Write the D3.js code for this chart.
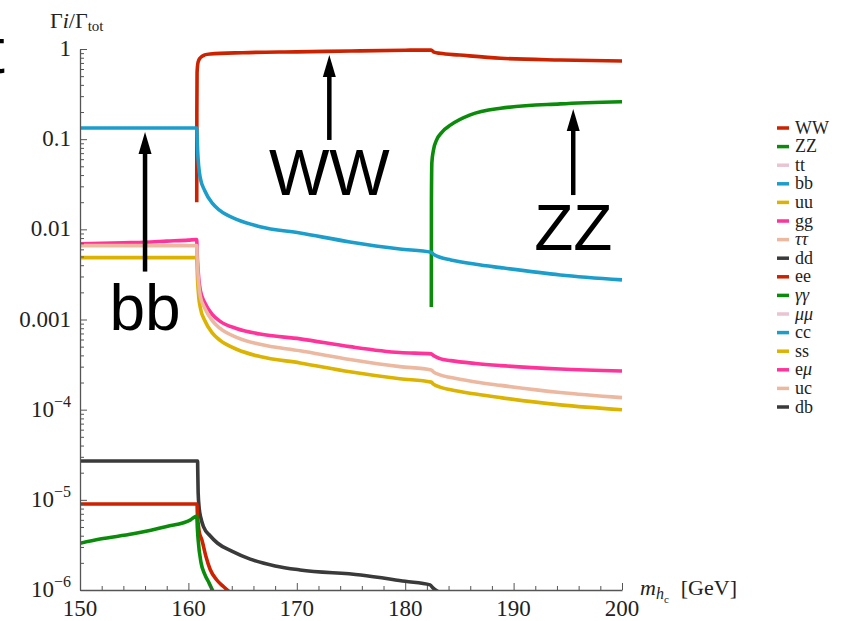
<!DOCTYPE html>
<html>
<head>
<meta charset="utf-8">
<script src="https://cdn.jsdelivr.net/npm/d3@7"></script>
<style>
  body { margin: 0; background: #fff; }
  text { font-family: "Liberation Serif", "Times New Roman", serif; }
</style>
</head>
<body>
<svg id="canvas"></svg>
<script>
// tick values
const massTicks = [150, 160, 170, 180, 190, 200];
const ratioTicks = [1, 0.1, 0.01, 0.001, 1e-4, 1e-5, 1e-6];
const ratioLabels = [["1"], ["0.1"], ["0.01"], ["0.001"], ["10", "\u22124"], ["10", "\u22125"], ["10", "\u22126"]];

// legend (plot order)
const legendNames = ["WW", "ZZ", "tt", "bb", "uu", "gg", "\u03c4\u03c4", "dd", "ee", "\u03b3\u03b3", "\u03bc\u03bc", "cc", "ss", "e\u03bc", "uc", "db"];
const italicNames = ["\u03c4\u03c4", "\u03b3\u03b3", "\u03bc\u03bc"];
const palette = ["#cc2200", "#0a8c0a", "#e9c5d3", "#1b9ecb", "#dcb300", "#ff3399", "#ecb89f", "#3a3a3a"];

// branching ratios: [m_hc (GeV), Gamma_i/Gamma_tot]
const ww = [[160.77, 0.020], [160.78, 0.2], [160.8, 0.55], [160.9, 0.72], [161.1, 0.80], [161.5, 0.86],
  [162, 0.88], [165, 0.91], [170, 0.93], [175, 0.95], [180, 0.97], [182.4, 0.975], [182.6, 0.93],
  [183.2, 0.895], [185, 0.858], [188.8, 0.79], [194.3, 0.755], [200, 0.736]];

const zz = [[182.41, 0.00138], [182.42, 0.02], [182.46, 0.055], [182.6, 0.075], [182.9, 0.098],
  [183.4, 0.12], [184.2, 0.144], [186, 0.186], [188.8, 0.22], [194.3, 0.246], [200, 0.26]];

const bb = [[150, 0.133], [160.77, 0.133], [160.8, 0.11], [160.85, 0.075], [160.95, 0.05], [161.1, 0.037],
  [161.5, 0.027], [162.2, 0.0195], [162.9, 0.0162], [164.5, 0.0128], [166.6, 0.0107], [170.3, 0.0091],
  [174.9, 0.00725], [179.5, 0.00606], [182.4, 0.00557], [182.6, 0.0053], [183.2, 0.0049], [184.2, 0.00458],
  [186.5, 0.0041], [188.8, 0.00376], [194.3, 0.00312], [200, 0.00275]];

const uu = [[150, 0.00485], [160.77, 0.00485], [160.8, 0.0038], [160.85, 0.0027], [160.95, 0.0018],
  [161.1, 0.00135], [161.5, 0.00098], [162.2, 0.00071], [162.9, 0.000590], [164.5, 0.000465],
  [166.6, 0.000388], [170.3, 0.00033], [174.9, 0.000263], [179.5, 0.00022], [182.4, 0.000202],
  [182.6, 0.000192], [183.2, 0.000178], [184.2, 0.000166], [186.5, 0.000149], [188.8, 0.000136],
  [194.3, 0.000113], [200, 0.0000998]];

const gg = [[150, 0.0069], [152, 0.0070], [154, 0.0071], [156, 0.0072], [158, 0.0074], [160, 0.0076],
  [160.77, 0.0077], [160.8, 0.0058], [160.85, 0.0043], [160.95, 0.0029], [161.1, 0.0021], [161.5, 0.00155],
  [162.2, 0.00114], [162.9, 0.00096], [164.5, 0.00079], [166.6, 0.00069], [170.3, 0.00061], [174.9, 0.00050],
  [179.5, 0.00043], [182.4, 0.000416], [182.6, 0.000398], [183.2, 0.000368], [184.2, 0.00035],
  [186.5, 0.000325], [188.8, 0.000308], [194.3, 0.000282], [200, 0.000268]];

const tautau = [[150, 0.0066], [160.77, 0.0066], [160.8, 0.0050], [160.85, 0.0037], [160.95, 0.0025],
  [161.1, 0.0018], [161.5, 0.00134], [162.2, 0.00097], [162.9, 0.00080], [164.5, 0.00063], [166.6, 0.00053],
  [170.3, 0.00045], [174.9, 0.00036], [179.5, 0.00030], [182.4, 0.000276], [182.6, 0.000263],
  [183.2, 0.000243], [184.2, 0.000227], [186.5, 0.000203], [188.8, 0.000186], [194.3, 0.000155],
  [200, 0.000136]];

const dd = [[150, 2.7e-5], [160.85, 2.7e-5], [160.86, 2.2e-5], [160.9, 1.2e-5], [161.0, 8.0e-6],
  [161.15, 6.3e-6], [161.4, 5.0e-6], [162, 4.0e-6], [162.7, 3.3e-6], [164, 2.7e-6], [165.7, 2.2e-6],
  [168, 1.85e-6], [170.3, 1.67e-6], [175.9, 1.47e-6], [180, 1.25e-6], [182.3, 1.14e-6], [182.5, 1.07e-6],
  [183.1, 0.95e-6]];

const ee = [[150, 9.0e-6], [160.8, 9.0e-6], [160.82, 7.4e-6], [160.9, 5.5e-6], [161.0, 4.4e-6],
  [161.24, 3.6e-6], [161.6, 2.4e-6], [162.0, 1.7e-6], [162.6, 1.3e-6], [163.2, 1.1e-6], [163.8, 0.95e-6]];

const gamgam = [[150, 3.3e-6], [151.85, 3.67e-6], [154.9, 4.2e-6], [158, 5.06e-6], [160.2, 6.0e-6],
  [160.77, 6.6e-6], [160.83, 4.8e-6], [160.9, 3.6e-6], [161.17, 2.0e-6], [161.5, 1.5e-6], [161.9, 1.2e-6],
  [162.3, 0.95e-6]];

const curves = [
  {data: ww, color: palette[0]},
  {data: zz, color: palette[1]},
  {data: bb, color: palette[3]},
  {data: uu, color: palette[4]},
  {data: gg, color: palette[5]},
  {data: tautau, color: palette[6]},
  {data: dd, color: palette[7]},
  {data: ee, color: palette[0]},
  {data: gamgam, color: palette[1]}
];

const width = 843, height = 621;
const svg = d3.select("#canvas").attr("width", width).attr("height", height);

const marginLeft = 80, plotRight = 622, marginTop = 49, plotBottom = 590;

const x = d3.scaleLinear().domain([150, 200]).range([marginLeft, plotRight]);
const y = d3.scaleLog().domain([1e-6, 1]).range([plotBottom, marginTop]);

// cut-off slide title letter at the left edge
svg.append("text")
  .attr("x", -13).attr("y", 73)
  .style("font-family", "'Liberation Sans', Arial, sans-serif")
  .attr("font-size", 64).attr("fill", "#000")
  .text("t");

svg.append("clipPath").attr("id", "plotclip")
  .append("rect")
  .attr("x", marginLeft).attr("y", 0)
  .attr("width", plotRight - marginLeft + 4).attr("height", plotBottom);

const line = d3.line()
  .x(d => x(d[0]))
  .y(d => y(d[1]))
  .curve(d3.curveMonotoneX);

svg.append("g")
  .attr("clip-path", "url(#plotclip)")
  .selectAll("path")
  .data(curves)
  .join("path")
  .attr("fill", "none")
  .attr("stroke", d => d.color)
  .attr("stroke-width", 3.6)
  .attr("d", d => line(d.data));

// axes
const axisColor = "#555";
const minorY = y.ticks().filter(v => !ratioTicks.includes(v));
const minorX = d3.range(150, 201, 2).filter(v => !massTicks.includes(v));

const yAxis = svg.append("g").attr("transform", `translate(${marginLeft},0)`);
yAxis.call(d3.axisLeft(y).tickValues(ratioTicks).tickSize(-7).tickFormat("").tickSizeOuter(0));
yAxis.append("g").call(d3.axisLeft(y).tickValues(minorY).tickSize(-4).tickFormat("").tickSizeOuter(0));

const xAxis = svg.append("g").attr("transform", `translate(0,${plotBottom})`);
xAxis.call(d3.axisBottom(x).tickValues(massTicks).tickSize(-7).tickFormat("").tickSizeOuter(0));
xAxis.append("g").call(d3.axisBottom(x).tickValues(minorX).tickSize(-4).tickFormat("").tickSizeOuter(0));

svg.selectAll(".domain").attr("stroke", axisColor).attr("stroke-width", 1.3);
svg.selectAll(".tick line").attr("stroke", axisColor).attr("stroke-width", 1);
svg.selectAll(".domain").filter((d, i, n) => n[i].parentNode.parentNode !== svg.node()).remove();

// tick labels
ratioTicks.forEach((v, i) => {
  const t = svg.append("text")
    .attr("x", 71).attr("y", y(v) + 7)
    .attr("text-anchor", "end")
    .attr("font-size", 23).attr("fill", "#222");
  t.append("tspan").text(ratioLabels[i][0]);
  if (ratioLabels[i].length > 1) {
    t.append("tspan").attr("dy", -10).attr("font-size", 16).text(ratioLabels[i][1]);
  }
});

svg.selectAll(".xlabel")
  .data(massTicks)
  .join("text")
  .attr("x", d => x(d)).attr("y", 616)
  .attr("text-anchor", "middle")
  .attr("font-size", 23).attr("fill", "#222")
  .text(d => d);

// axis titles
const yTitle = svg.append("text").attr("x", 50).attr("y", 28).attr("font-size", 22).attr("fill", "#222");
yTitle.append("tspan").text("\u0393");
yTitle.append("tspan").attr("font-style", "italic").text("i");
yTitle.append("tspan").text("/\u0393");
yTitle.append("tspan").attr("font-size", 15).attr("dy", 3).text("tot");

const xTitle = svg.append("text").attr("x", 640).attr("y", 595).attr("font-size", 22).attr("fill", "#222");
xTitle.append("tspan").attr("font-style", "italic").text("m");
xTitle.append("tspan").attr("font-style", "italic").attr("font-size", 16).attr("dy", 4).text("h");
xTitle.append("tspan").attr("font-size", 11).attr("dy", 4).text("c");
xTitle.append("tspan").attr("dy", -8).attr("dx", 12).text("[GeV]");

// annotations with arrows (positions in data coords)
const notes = [
  {label: "WW", m: 173, tip: 0.86, tail: 0.098, textY: 0.024},
  {label: "bb", m: 156, tip: 0.12, tail: 0.0034, textY: 0.00076},
  {label: "ZZ", m: 195.5, tip: 0.216, tail: 0.024, textY: 0.0059}
];

notes.forEach(n => {
  const ax = x(n.m), tipY = y(n.tip), tailY = y(n.tail);
  svg.append("line")
    .attr("x1", ax).attr("x2", ax)
    .attr("y1", tailY).attr("y2", tipY + 18)
    .attr("stroke", "#000").attr("stroke-width", 4.5);
  svg.append("path")
    .attr("d", `M${ax},${tipY} L${ax - 6.5},${tipY + 22} L${ax + 6.5},${tipY + 22} Z`)
    .attr("fill", "#000");
  svg.append("text")
    .attr("x", ax).attr("y", y(n.textY))
    .attr("text-anchor", "middle")
    .style("font-family", "'Liberation Sans', Arial, sans-serif")
    .attr("font-size", 64).attr("fill", "#000")
    .text(n.label);
});

// legend
const legend = svg.append("g");
legendNames.forEach((name, i) => {
  const ly = 128 + i * 18.6;
  legend.append("line")
    .attr("x1", 777).attr("x2", 789)
    .attr("y1", ly).attr("y2", ly)
    .attr("stroke", palette[i % 8]).attr("stroke-width", 3.5);
  const t = legend.append("text")
    .attr("x", 795).attr("y", ly + 5.5)
    .attr("font-size", 18).attr("fill", "#222");
  if (italicNames.includes(name)) {
    t.attr("font-style", "italic").text(name);
  } else if (name === "e\u03bc") {
    t.append("tspan").text("e");
    t.append("tspan").attr("font-style", "italic").text("\u03bc");
  } else {
    t.text(name);
  }
});
</script>
</body>
</html>
